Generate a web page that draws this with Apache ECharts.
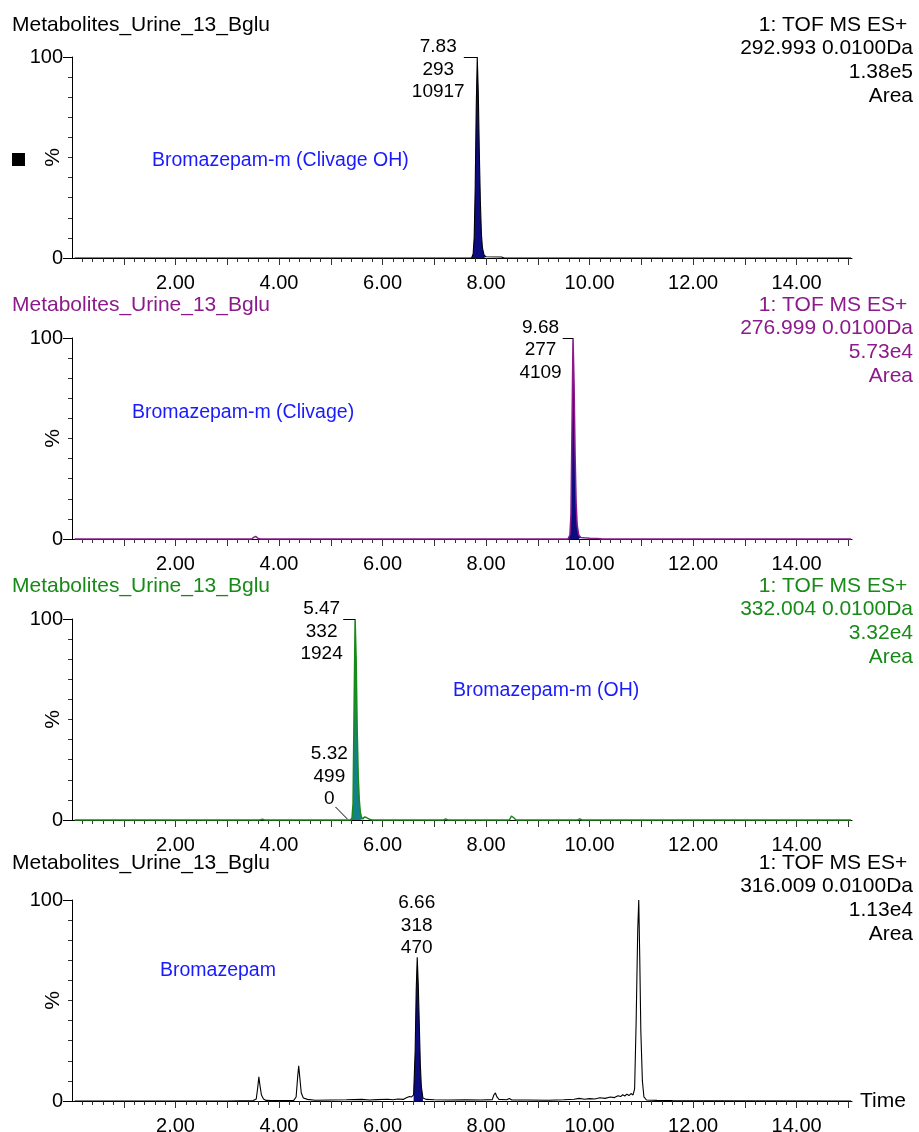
<!DOCTYPE html>
<html>
<head>
<meta charset="utf-8">
<style>
  html, body { margin: 0; padding: 0; background: #fff; }
  #chart { width: 919px; height: 1132px; }
</style>
<script src="https://cdn.jsdelivr.net/npm/echarts@6/dist/echarts.min.js"></script>
</head>
<body>
<div id="chart"></div>
<script>
// [time (min), intensity %]
const trace1 = [[0.05,0],[7.72,0],[7.75,2],[7.77,10],[7.79,35],[7.81,75],[7.83,100],[7.85,82],[7.87,52],[7.89,28],[7.91,12],[7.93,5],[7.96,1.5],[8.00,0.6],[8.30,0.5],[8.35,0],[15.05,0]];
const trace2 = [[0.05,0],[3.47,0],[3.51,0.8],[3.55,1.3],[3.59,0.4],[3.64,0],[9.58,0],[9.62,2],[9.64,12],[9.66,55],[9.68,100],[9.70,78],[9.72,42],[9.74,18],[9.76,7],[9.79,2],[9.83,0.8],[9.90,0.6],[10.00,0.4],[10.15,0.2],[10.25,0],[15.05,0]];
const trace3 = [[0.05,0],[3.62,0],[3.68,0.4],[3.72,0],[5.38,0],[5.41,1],[5.43,8],[5.45,55],[5.47,100],[5.49,80],[5.51,45],[5.53,22],[5.55,10],[5.57,4],[5.59,1.5],[5.62,0.5],[5.65,1.5],[5.67,1.8],[5.69,1.2],[5.72,0.8],[5.76,0.2],[5.80,0],[7.18,0],[7.22,0.5],[7.26,0],[8.45,0],[8.49,2],[8.51,2.6],[8.54,1],[8.58,0],[9.77,0],[9.81,0.6],[9.85,0],[15.05,0]];
const trace4 = [[0.05,0],[3.00,0],[3.50,0.2],[3.56,1],[3.59,7],[3.61,12],[3.63,8],[3.66,3],[3.70,1],[3.75,0.3],[3.85,0.2],[4.28,0.2],[4.33,2],[4.36,12],[4.38,17.5],[4.40,12],[4.43,4],[4.47,1.5],[4.55,0.8],[4.70,0.4],[5.00,0.5],[5.30,0.6],[5.60,0.8],[5.75,0.5],[5.90,0.7],[6.10,0.9],[6.20,0.6],[6.30,1],[6.40,0.8],[6.45,1.5],[6.52,2.2],[6.56,2],[6.60,3],[6.63,25],[6.65,55],[6.67,71.5],[6.69,58],[6.71,38],[6.73,18],[6.75,7],[6.78,1.5],[6.85,0.8],[7.00,0.6],[7.30,0.5],[7.60,0.6],[7.90,0.5],[8.12,0.7],[8.15,3],[8.18,4],[8.21,2],[8.25,0.8],[8.40,0.6],[8.45,1.2],[8.50,0.5],[8.80,0.5],[9.20,0.4],[9.50,0.6],[9.70,0.9],[9.80,1.3],[9.90,0.9],[10.00,1.2],[10.10,1.0],[10.20,1.6],[10.30,1.3],[10.40,2],[10.48,1.7],[10.55,2.6],[10.60,2.2],[10.64,3.1],[10.68,2.5],[10.72,3.4],[10.76,2.7],[10.80,3.7],[10.84,3],[10.87,6],[10.90,40],[10.93,85],[10.95,100],[10.97,70],[10.99,35],[11.02,10],[11.05,2],[11.10,0.5],[11.30,0.3],[11.60,0.2],[12.50,0.1],[15.05,0]];

// integrated (filled) peak windows, min
const range1 = [7.72, 8.00];
const range2 = [9.58, 9.83];
const range3 = [5.38, 5.62];
const range4 = [6.60, 6.78];

// peak labels: [time, height %, m/z, area]
const peaks1 = [[7.83, 100, 293, 10917]];
const peaks2 = [[9.68, 100, 277, 4109]];
const peaks3 = [[5.47, 100, 332, 1924], [5.32, 0, 499, 0]];
const peaks4 = [[6.66, 71.5, 318, 470]];

// leader lines: [[t0, y0], [t1, y1]]
const leaders1 = [[[7.57, 100], [7.83, 100]]];
const leaders2 = [[[9.48, 100], [9.68, 100]]];
const leaders3 = [[[5.24, 100], [5.47, 100]], [[5.09, 6.5], [5.32, 0.5]]];
const leaders4 = [];

const sampleName = 'Metabolites_Urine_13_Bglu';
const channels = [
  ['1: TOF MS ES+ ', '292.993 0.0100Da', '1.38e5', 'Area'],
  ['1: TOF MS ES+ ', '276.999 0.0100Da', '5.73e4', 'Area'],
  ['1: TOF MS ES+ ', '332.004 0.0100Da', '3.32e4', 'Area'],
  ['1: TOF MS ES+ ', '316.009 0.0100Da', '1.13e4', 'Area']
];
const compounds = ['Bromazepam-m (Clivage OH)', 'Bromazepam-m (Clivage)', 'Bromazepam-m (OH)', 'Bromazepam'];

const majorTicks = [1,2,3,4,5,6,7,8,9,10,11,12,13,14,15];
const tickLabels = [2,4,6,8,10,12,14];

const panels = [
  { top: 57,  color: '#000000', fill: '#0c0c80', trace: trace1, range: range1, peaks: peaks1, leaders: leaders1,
    textTop: 13, cx: 152, cy: 161, offsets: [[-39, 12.5]] },
  { top: 338, color: '#8c1a8c', fill: '#0c0c80', trace: trace2, range: range2, peaks: peaks2, leaders: leaders2,
    textTop: 293, cx: 132, cy: 413, offsets: [[-32.5, 12]] },
  { top: 619, color: '#178a17', fill: '#13808c', trace: trace3, range: range3, peaks: peaks3, leaders: leaders3,
    textTop: 574, cx: 453, cy: 691, offsets: [[-33.5, 12.5], [-18, -43.5]] },
  { top: 900, color: '#000000', fill: '#0c0c80', trace: trace4, range: range4, peaks: peaks4, leaders: leaders4,
    textTop: 851, cx: 160, cy: 971, offsets: [[0, -32]] }
];

const FONT = 'Liberation Sans, Arial, sans-serif';
const grid = [], xAxis = [], yAxis = [], series = [], title = [];

panels.forEach((p, i) => {
  grid.push({ left: 72, width: 780, top: p.top, height: 201, outerBoundsMode: 'none', containLabel: false });
  xAxis.push({
    gridIndex: i, type: 'value', min: 0, max: 15.07, interval: 1,
    axisLine: { show: true, onZero: false, lineStyle: { color: '#000', width: 1 } },
    axisTick: { show: true, length: 7, customValues: majorTicks, lineStyle: { color: '#333' } },
    minorTick: { show: true, splitNumber: 5, length: 4, lineStyle: { color: '#333' } },
    axisLabel: { customValues: tickLabels, formatter: v => v.toFixed(2), fontSize: 20, color: '#000', margin: 15 },
    splitLine: { show: false },
    name: i === 3 ? 'Time' : '', nameLocation: 'end', nameGap: 8, nameMoveOverlap: false,
    nameTextStyle: { fontSize: 21, color: '#000' }
  });
  yAxis.push({
    gridIndex: i, type: 'value', min: 0, max: 100, interval: 100,
    axisLine: { show: true, lineStyle: { color: '#000', width: 1 } },
    axisTick: { show: true, length: 9, lineStyle: { color: '#000' } },
    minorTick: { show: true, splitNumber: 10, length: 4, lineStyle: { color: '#333' } },
    axisLabel: { fontSize: 20, color: '#000', margin: 9 },
    splitLine: { show: false },
    name: '%', nameLocation: 'middle', nameGap: 8, nameRotate: 90, nameMoveOverlap: false,
    nameTextStyle: { fontSize: 21, color: '#000' }
  });

  // integrated peak area
  series.push({
    type: 'line', xAxisIndex: i, yAxisIndex: i, symbol: 'none', clip: false, z: 2,
    data: p.trace.filter(d => d[0] >= p.range[0] && d[0] <= p.range[1]),
    lineStyle: { width: 0 },
    areaStyle: { color: p.fill, opacity: 1 }
  });
  // trace
  series.push({
    type: 'line', xAxisIndex: i, yAxisIndex: i, symbol: 'none', clip: false, z: 3,
    data: p.trace,
    lineStyle: { color: p.color, width: i === 0 || i === 3 ? 1.1 : 1.5 },
    markPoint: {
      symbol: 'circle', symbolSize: 0, silent: true,
      data: p.peaks.map((k, j) => ({
        coord: [k[0], k[1]],
        label: {
          show: true, position: 'inside', offset: p.offsets[j],
          formatter: k[0].toFixed(2) + '\n' + k[2] + '\n' + k[3],
          color: '#000', fontSize: 19, lineHeight: 22.5, align: 'center', verticalAlign: 'middle'
        }
      }))
    },
    markLine: {
      symbol: ['none', 'none'], silent: true, label: { show: false },
      lineStyle: { color: '#000', width: 1, type: 'solid' },
      data: p.leaders.map(l => [{ coord: l[0] }, { coord: l[1] }])
    }
  });

  title.push({
    text: sampleName, left: 12, top: p.textTop, padding: 0,
    textStyle: { fontSize: 21, lineHeight: 24, fontWeight: 'normal', color: p.color }
  });
  title.push({
    text: channels[i].join('\n'), left: 913, top: p.textTop, padding: 0, textAlign: 'right',
    textStyle: { fontSize: 21, lineHeight: 23.7, fontWeight: 'normal', color: p.color }
  });
  title.push({
    text: compounds[i], left: p.cx, top: p.cy - 12, padding: 0,
    textStyle: { fontSize: 19.5, lineHeight: 24, fontWeight: 'normal', color: '#1a1aff' }
  });
});

const chart = echarts.init(document.getElementById('chart'));
chart.setOption({
  animation: false,
  backgroundColor: '#fff',
  textStyle: { fontFamily: FONT },
  title: title,
  grid: grid,
  xAxis: xAxis,
  yAxis: yAxis,
  series: series,
  graphic: [{ type: 'rect', shape: { x: 12, y: 153, width: 13, height: 13 }, style: { fill: '#000' } }]
});
</script>
</body>
</html>
